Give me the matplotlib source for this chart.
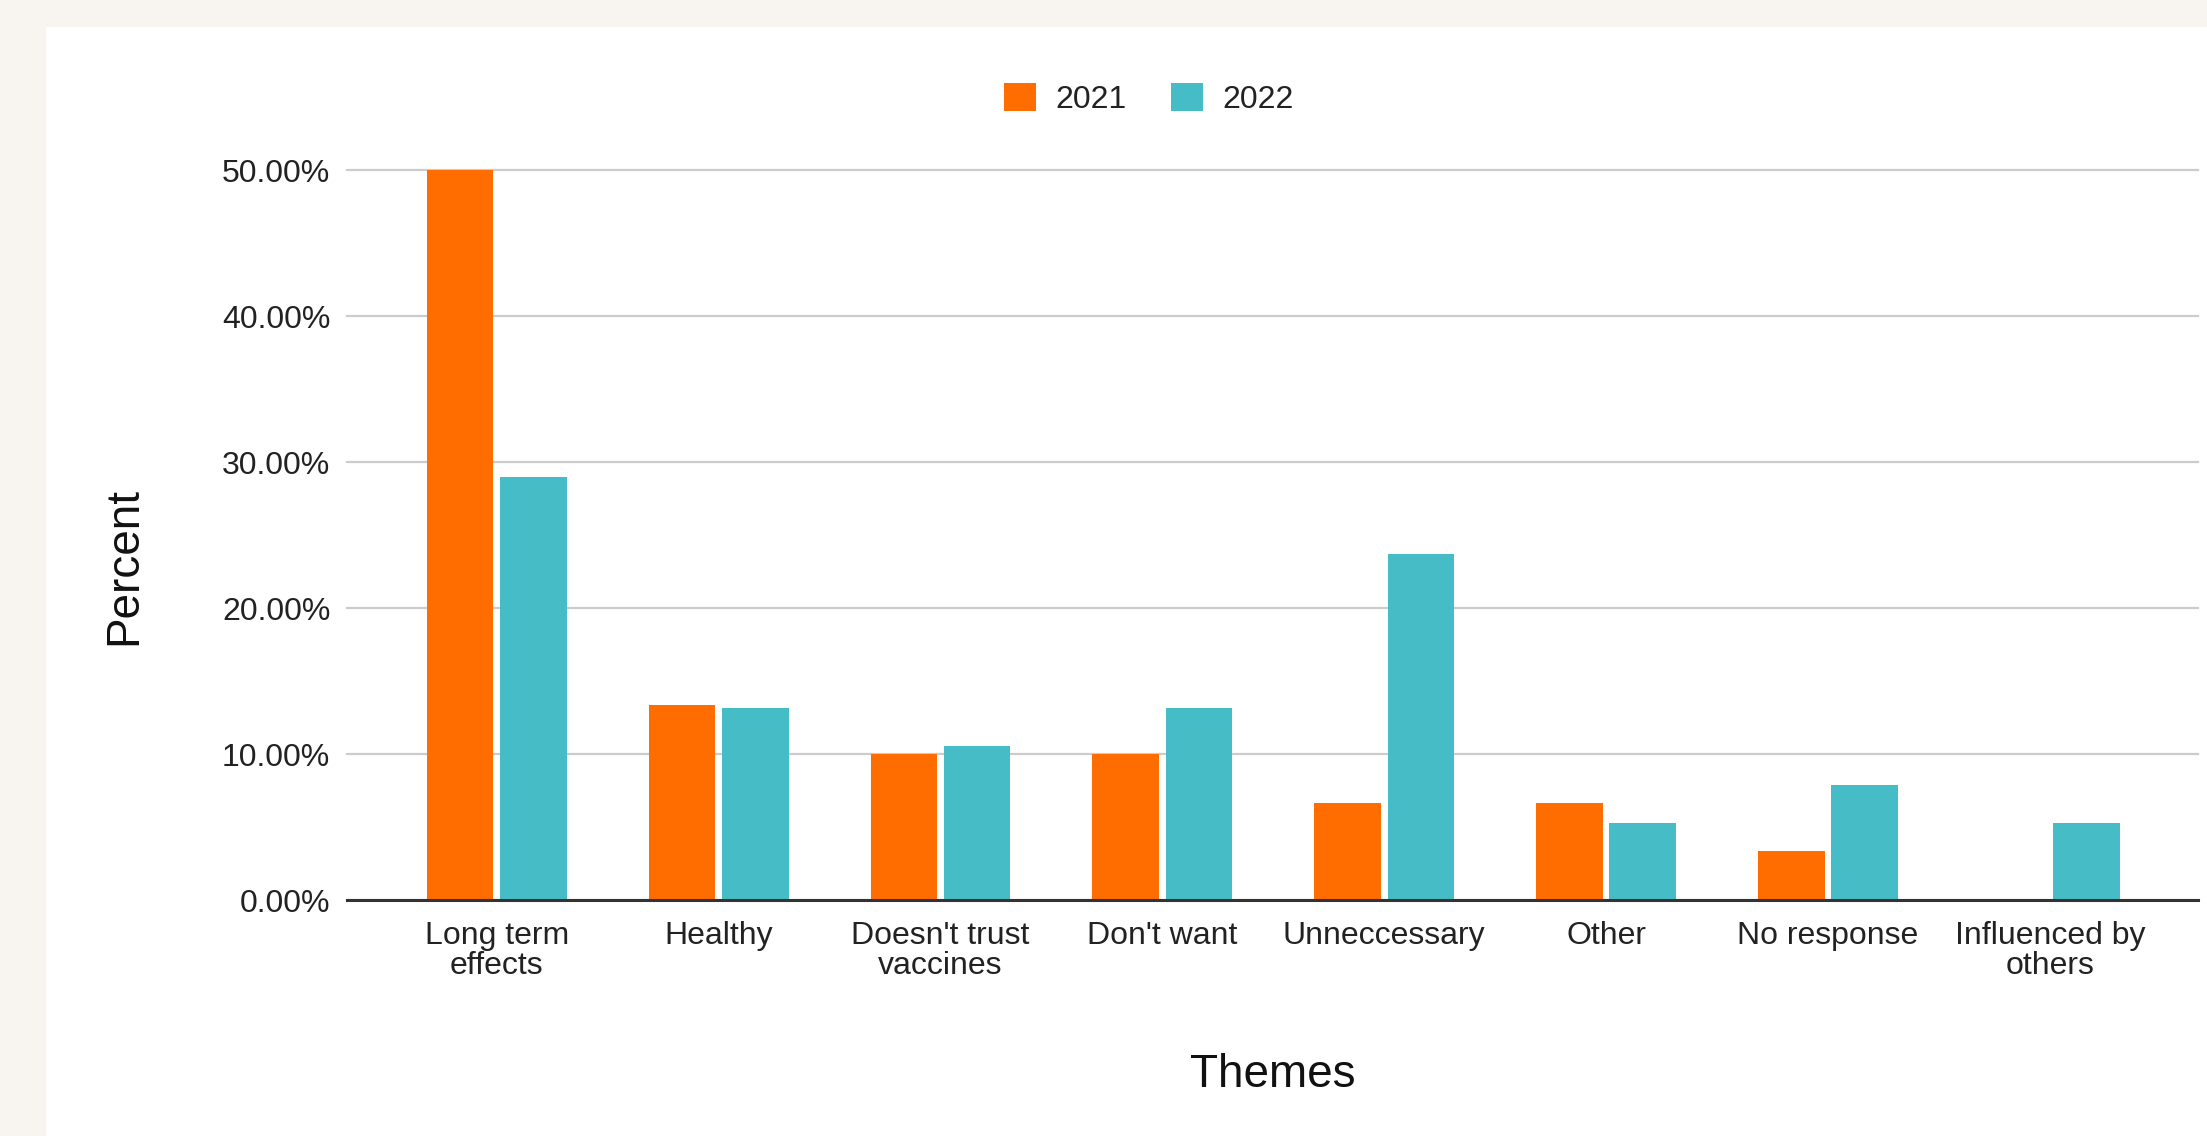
import matplotlib.pyplot as plt
import numpy as np

# Дані
themes = ["Long term\neffects", "Healthy", "Doesn't trust\nvaccines", "Don't want",
          "Unneccessary", "Other", "No response", "Influenced by\nothers"]
pct_2021 = [50.00, 13.33, 10.00, 10.00, 6.67, 6.67, 3.33, 0.00]
pct_2022 = [28.95, 13.16, 10.53, 13.16, 23.68, 5.26, 7.89, 5.26]
years = ["2021", "2022"]
colors = ["#ff6d01", "#46bdc6"]
yticks = [0, 10, 20, 30, 40, 50]

plt.rcParams['font.family'] = ['Liberation Sans', 'DejaVu Sans']

W, H = 2207, 1136
fig = plt.figure(figsize=(W / 100, H / 100), dpi=100)
fig.patch.set_facecolor("#f8f4f0")

# біла панель
panel = plt.Rectangle((46 / W, 0), 1, 1 - 27 / H, transform=fig.transFigure,
                      facecolor="white", edgecolor="none", zorder=-5)
fig.patches.append(panel)

ax = fig.add_axes([347 / W, 1 - 900 / H, (2198 - 347) / W, (900 - 170) / H])
ax.set_facecolor("none")

x = np.arange(len(themes))
w = 0.3
ax.bar(x - 0.165, pct_2021, w, color=colors[0], label=years[0], zorder=3)
ax.bar(x + 0.165, pct_2022, w, color=colors[1], label=years[1], zorder=3)

ax.set_xlim(-0.675, len(themes) - 1 + 0.668)
ax.set_ylim(0, 50)
ax.set_yticks(yticks)
ax.set_yticklabels([f"{v:.2f}%" for v in yticks])
ax.set_xticks(x)
ax.set_xticklabels(themes, linespacing=1.0)

ax.grid(axis="y", color="#cccccc", linewidth=1.6, zorder=1)
for gl in ax.get_ygridlines():
    gl.set_clip_on(False)
for s in ["top", "right", "left"]:
    ax.spines[s].set_visible(False)
ax.spines["bottom"].set_color("#333333")
ax.spines["bottom"].set_linewidth(2.2)
ax.spines["bottom"].set_zorder(4)

ax.tick_params(axis="both", length=0, labelsize=23, labelcolor="#222222")
ax.tick_params(axis="y", pad=12)
ax.tick_params(axis="x", pad=15)

fig.text(124 / W, 1 - 566 / H, "Percent", rotation=90, fontsize=33,
         ha="center", va="center", color="#111111")
fig.text(1273 / W, 1 - 1075 / H, "Themes", fontsize=33,
         ha="center", va="center", color="#111111")

ax.legend(loc="center", bbox_to_anchor=(1149 / W, 1 - 99 / H),
          bbox_transform=fig.transFigure, ncol=2, frameon=False, fontsize=23,
          handlelength=1.0, handleheight=1.0, handletextpad=0.6, columnspacing=1.4,
          labelcolor="#222222")

fig.savefig("out.png", dpi=100, facecolor=fig.get_facecolor())
